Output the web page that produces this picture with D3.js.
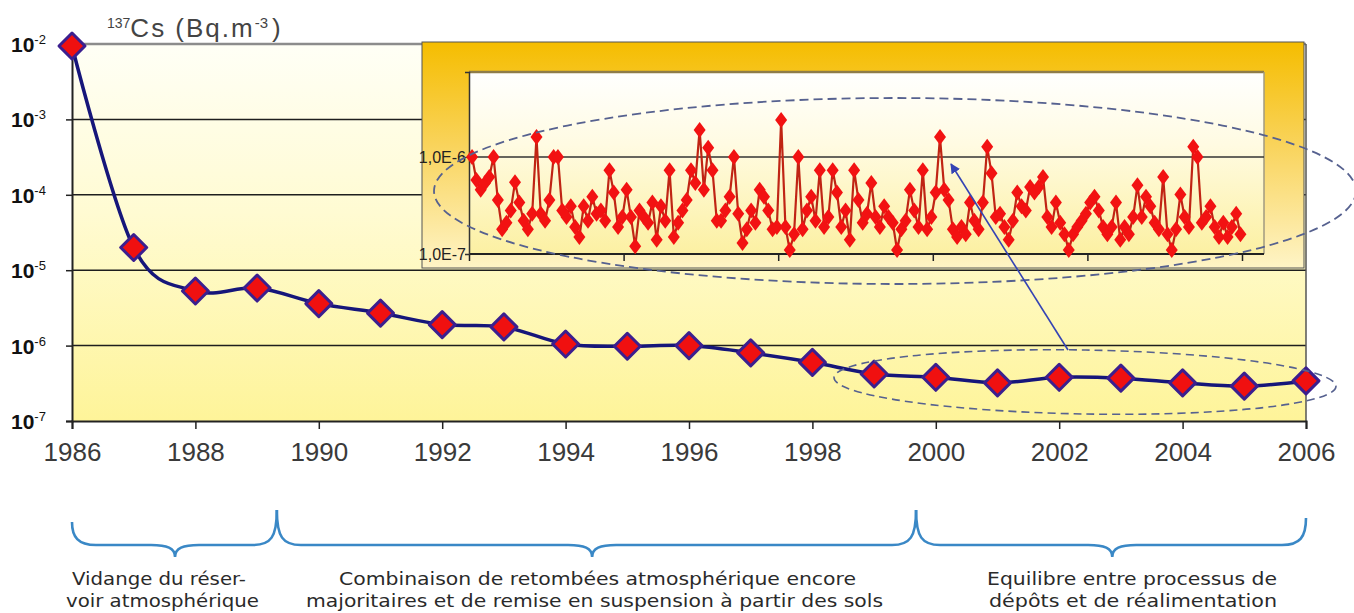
<!DOCTYPE html>
<html>
<head>
<meta charset="utf-8">
<script src="https://cdn.jsdelivr.net/npm/d3@7"></script>
<style>
  body { margin: 0; background: #fff; }
  svg { display: block; }
</style>
</head>
<body>
<div id="chart"></div>
<script>
// yearly mean 137Cs in air (Bq/m3)
var years = [1986, 1987, 1988, 1989, 1990, 1991, 1992, 1993, 1994, 1995, 1996,
             1997, 1998, 1999, 2000, 2001, 2002, 2003, 2004, 2005, 2006];
var cs137 = [9.4e-3, 2.0e-5, 5.3e-6, 5.8e-6, 3.6e-6, 2.7e-6, 1.9e-6, 1.77e-6, 1.05e-6, 0.98e-6, 1.0e-6,
             8.0e-7, 6.0e-7, 4.2e-7, 3.8e-7, 3.2e-7, 3.8e-7, 3.7e-7, 3.2e-7, 2.9e-7, 3.4e-7];

var xTicks = [1986, 1988, 1990, 1992, 1994, 1996, 1998, 2000, 2002, 2004, 2006];
var yExponents = [-2, -3, -4, -5, -6, -7];

// inset: weekly values 2001-2006, in units of 1e-7 Bq/m3
var insetValues = [
  10, 5.8, 4.6, 5.4, 6.2, 10, 3.6, 1.8, 2.1, 2.8, 5.5, 3.4, 2.2, 1.8, 2.6, 16, 2.6, 2.2, 3.6, 10,
  10, 2.8, 2.4, 3.1, 1.9, 1.5, 3.1, 2.2, 3.9, 2.6, 2.8, 2.2, 7.3, 4.3, 1.9, 2.4, 4.6, 2.4, 1.2, 2.8,
  2.4, 2.1, 3.4, 1.4, 3.1, 2.2, 7.3, 1.5, 2.1, 2.8, 3.6, 7.3, 5.4, 19, 4.6, 12.4, 7.3, 2.2,
  2.2, 2.8, 3.9, 10, 2.6, 1.3, 1.8, 2.8, 2.1, 4.6, 3.9, 2.8, 1.8, 1.9, 24, 1.9, 1.1, 1.6, 10, 1.8,
  2.8, 3.9, 2.2, 7.3, 1.9, 2.4, 7.3, 4.3, 1.9, 2.8, 1.4, 7.3, 3.6, 2.1, 2.6, 5.4, 2.4, 1.9, 3.1, 2.4,
  2.1, 1.1, 1.8, 2.2, 4.6, 2.8, 1.9, 7.3, 1.8, 2.4, 4.3, 16, 4.6, 3.6, 1.8, 1.5, 1.9, 1.6, 3.4, 2.2,
  1.8, 3.4, 12.7, 6.8, 2.4, 2.6, 1.9, 1.4, 2.2, 4.3, 3.1, 2.8, 4.9, 4.3, 4.9, 6.2, 2.4, 1.9, 3.4, 2.1,
  1.6, 1.1, 1.6, 1.9, 2.2, 2.6, 3.4, 3.9, 2.8, 1.9, 1.6, 1.9, 3.4, 1.4, 1.9, 1.6, 2.4, 5.1, 2.4, 3.9,
  3.1, 2.1, 1.8, 6.2, 1.6, 1.1, 1.8, 4.1, 2.4, 1.9, 12.7, 10, 2.1, 2.4, 3.1, 1.9, 1.5, 2.1, 1.5, 1.9,
  2.6, 1.6
];
var insetYears = [2001, 2002, 2003, 2004, 2005, 2006];
var insetTickValues = [1e-6, 1e-7];
var insetTickLabels = ["1,0E-6", "1,0E-7"];

// periods under the x axis (in years)
var periodStart = [1986.0, 1989.32, 1999.68];
var periodEnd = [1989.32, 1999.68, 2006];
var periodMid = [1987.67, 1994.43, 2002.86];
var periodText = [
  ["Vidange du réser-", "voir atmosphérique"],
  ["Combinaison de retombées atmosphérique encore", "majoritaires et de remise en suspension à partir des sols"],
  ["Equilibre entre processus de", "dépôts et de réalimentation"]
];

var width = 1354, height = 613;

var svg = d3.select("#chart").append("svg")
    .attr("width", width)
    .attr("height", height);

var defs = svg.append("defs");

function vGrad(id, stops) {
  var g = defs.append("linearGradient").attr("id", id)
      .attr("x1", 0).attr("y1", 0).attr("x2", 0).attr("y2", 1);
  stops.forEach(function(s) {
    g.append("stop").attr("offset", s[0]).attr("stop-color", s[1]);
  });
}
vGrad("plotBg", [[0, "#fffff6"], [0.45, "#fffbd2"], [1, "#fef499"]]);
vGrad("frameBg", [[0, "#f5bd00"], [0.45, "#f9d35a"], [1, "#fef4c6"]]);
vGrad("innerBg", [[0, "#ffffff"], [0.4, "#fffbe2"], [1, "#fcf0a2"]]);

defs.append("marker")
    .attr("id", "arrowHead")
    .attr("viewBox", "0 0 10 10")
    .attr("refX", 9).attr("refY", 5)
    .attr("markerWidth", 10).attr("markerHeight", 10)
    .attr("markerUnits", "userSpaceOnUse")
    .attr("orient", "auto")
  .append("path")
    .attr("d", "M0,0L10,5L0,10Z")
    .attr("fill", "#3443b4");

var x = d3.scaleLinear().domain([1986, 2006]).range([72, 1306]);
var y = d3.scaleLog().domain([1e-7, 1e-2]).range([421, 44]);

// plot background
svg.append("rect")
    .attr("x", x(1986)).attr("y", y(1e-2))
    .attr("width", x(2006) - x(1986))
    .attr("height", y(1e-7) - y(1e-2))
    .attr("fill", "url(#plotBg)");

// horizontal gridlines
svg.append("g").selectAll("line")
    .data(yExponents.slice(0, -1))
  .enter().append("line")
    .attr("x1", x(1986)).attr("x2", x(2006))
    .attr("y1", function(d) { return y(Math.pow(10, d)); })
    .attr("y2", function(d) { return y(Math.pow(10, d)); })
    .attr("stroke", function(d) { return d === -2 ? "#8c8c8c" : "#1e1e1e"; })
    .attr("stroke-width", function(d) { return d === -2 ? 2.5 : 1.5; });

// right border
svg.append("line")
    .attr("x1", x(2006)).attr("x2", x(2006))
    .attr("y1", y(1e-2)).attr("y2", y(1e-7))
    .attr("stroke", "#555").attr("stroke-width", 1.5);

// x axis
var xAxis = d3.axisBottom(x)
    .tickValues(xTicks)
    .tickSize(8)
    .tickPadding(14)
    .tickFormat(d3.format("d"));

var gx = svg.append("g")
    .attr("transform", "translate(0," + y(1e-7) + ")")
    .call(xAxis);
gx.select(".domain").attr("stroke", "#222").attr("stroke-width", 2);
gx.selectAll(".tick line").attr("stroke", "#222").attr("stroke-width", 1.5);
gx.selectAll(".tick text")
    .attr("font-family", "'Liberation Sans', Arial, sans-serif")
    .attr("font-size", 26)
    .attr("fill", "#3a3a3a");

// y axis
var yAxis = d3.axisLeft(y)
    .tickValues(yExponents.map(function(e) { return Math.pow(10, e); }))
    .tickSize(6)
    .tickFormat("");

var gy = svg.append("g")
    .attr("transform", "translate(" + x(1986) + ",0)")
    .call(yAxis);
gy.select(".domain").attr("stroke", "#222").attr("stroke-width", 2);
gy.selectAll(".tick line").attr("stroke", "#222").attr("stroke-width", 1.5);

var yLab = svg.append("g").selectAll("text")
    .data(yExponents)
  .enter().append("text")
    .attr("x", 11)
    .attr("y", function(d) { return y(Math.pow(10, d)) + 8; })
    .attr("font-family", "'Liberation Sans', Arial, sans-serif")
    .attr("fill", "#111");
yLab.append("tspan")
    .attr("font-size", 21).attr("font-weight", "bold")
    .text("10");
yLab.append("tspan")
    .attr("font-size", 13).attr("dy", -8)
    .text(function(d) { return d; });

// axis title
var title = svg.append("text")
    .attr("x", 107).attr("y", 37)
    .attr("font-family", "'Liberation Sans', Arial, sans-serif")
    .attr("fill", "#444");
title.append("tspan").attr("font-size", 14).attr("dy", -9).text("137");
title.append("tspan").attr("font-size", 26).attr("dy", 9).attr("letter-spacing", 2).text("Cs (Bq.m");
title.append("tspan").attr("font-size", 15).attr("dy", -9).text("-3");
title.append("tspan").attr("font-size", 26).attr("dy", 9).attr("dx", 4).text(")");

// ---------- inset ----------
var inset = svg.append("g");

inset.append("rect")
    .attr("x", 422).attr("y", 42)
    .attr("width", 882).attr("height", 226)
    .attr("fill", "url(#frameBg)")
    .attr("stroke", "#555").attr("stroke-width", 1);

var ix = d3.scaleLinear().domain([2001, 2006]).range([469, 1242]);
var iy = d3.scaleLog().domain([1e-7, 7.5e-6]).range([254, 72]);
var iWeek = d3.scaleLinear().domain([0, insetValues.length - 1]).range([2001.02, 2005.99]);

inset.append("rect")
    .attr("x", 469).attr("y", 72)
    .attr("width", 1264 - 469).attr("height", 254 - 72)
    .attr("fill", "url(#innerBg)");
inset.append("line")
    .attr("x1", 469).attr("x2", 1264).attr("y1", 72).attr("y2", 72)
    .attr("stroke", "#8e7c4a").attr("stroke-width", 2.5);
inset.append("line")
    .attr("x1", 1264).attr("x2", 1264).attr("y1", 72).attr("y2", 254)
    .attr("stroke", "#a09a80").attr("stroke-width", 1.5);

inset.append("line")
    .attr("x1", 469).attr("x2", 1264)
    .attr("y1", iy(1e-6)).attr("y2", iy(1e-6))
    .attr("stroke", "#333").attr("stroke-width", 1.5);

var igx = inset.append("g")
    .attr("transform", "translate(0," + iy(1e-7) + ")")
    .call(d3.axisBottom(ix).tickValues(insetYears).tickSize(7).tickFormat(""));
igx.select(".domain").attr("d", "M469,0H1264").attr("stroke", "#222").attr("stroke-width", 2);
igx.selectAll(".tick line").attr("stroke", "#222").attr("stroke-width", 1.5);

var igy = inset.append("g")
    .attr("transform", "translate(469,0)")
    .call(d3.axisLeft(iy).tickValues(insetTickValues).tickSize(4).tickFormat(""));
igy.select(".domain").attr("stroke", "#333").attr("stroke-width", 1.5);
igy.selectAll(".tick line").attr("stroke", "#333");

inset.append("g").selectAll("text")
    .data(insetTickValues)
  .enter().append("text")
    .attr("x", 466)
    .attr("y", function(d) { return iy(d) + 6; })
    .attr("text-anchor", "end")
    .attr("font-family", "'Liberation Sans Narrow', 'Arial Narrow', sans-serif")
    .attr("font-stretch", "condensed")
    .attr("font-size", 16)
    .attr("fill", "#222")
    .text(function(d, i) { return insetTickLabels[i]; });

var insetLine = d3.line()
    .x(function(d, i) { return ix(iWeek(i)); })
    .y(function(d) { return iy(d * 1e-7); });

inset.append("path")
    .datum(insetValues)
    .attr("d", insetLine)
    .attr("fill", "none")
    .attr("stroke", "#c02414")
    .attr("stroke-width", 2.2);

inset.append("g").selectAll("path")
    .data(insetValues)
  .enter().append("path")
    .attr("transform", function(d, i) {
      return "translate(" + ix(iWeek(i)) + "," + iy(d * 1e-7) + ")";
    })
    .attr("d", "M0,-8L6,0L0,8L-6,0Z")
    .attr("fill", "#f21212");

// ---------- main series ----------
var line = d3.line()
    .curve(d3.curveCatmullRom.alpha(0))
    .x(function(d, i) { return x(years[i]); })
    .y(function(d) { return y(d); });

svg.append("path")
    .datum(cs137)
    .attr("d", line)
    .attr("fill", "none")
    .attr("stroke", "#16167a")
    .attr("stroke-width", 3.5);

svg.append("g").selectAll("path")
    .data(cs137)
  .enter().append("path")
    .attr("transform", function(d, i) { return "translate(" + x(years[i]) + "," + y(d) + ")"; })
    .attr("d", "M0,-13L13,0L0,13L-13,0Z")
    .attr("fill", "#f01010")
    .attr("stroke", "#3b1f8f")
    .attr("stroke-width", 3)
    .attr("stroke-linejoin", "round");

// ---------- annotations ----------
svg.append("ellipse")
    .attr("cx", 895).attr("cy", 191)
    .attr("rx", 461).attr("ry", 93)
    .attr("fill", "none")
    .attr("stroke", "#56618f").attr("stroke-width", 1.8)
    .attr("stroke-dasharray", "9,5");

svg.append("ellipse")
    .attr("cx", 1085).attr("cy", 382)
    .attr("rx", 251).attr("ry", 32)
    .attr("transform", "rotate(1,1085,382)")
    .attr("fill", "none")
    .attr("stroke", "#56618f").attr("stroke-width", 1.6)
    .attr("stroke-dasharray", "8,5");

svg.append("line")
    .attr("x1", 1068).attr("y1", 350)
    .attr("x2", 951).attr("y2", 164)
    .attr("stroke", "#3443b4").attr("stroke-width", 1.6)
    .attr("marker-end", "url(#arrowHead)");

// ---------- period braces ----------
function bracePath(x1, x2, xm, yTip1, yTip2) {
  var yH = 545, yCusp = 557, r = 24;
  return "M" + x1 + "," + yTip1 +
    "C" + x1 + "," + (yH - 8) + " " + (x1 + 6) + "," + yH + " " + (x1 + r) + "," + yH +
    "L" + (xm - r) + "," + yH +
    "C" + (xm - 8) + "," + yH + " " + xm + "," + (yH + 3) + " " + xm + "," + yCusp +
    "C" + xm + "," + (yH + 3) + " " + (xm + 8) + "," + yH + " " + (xm + r) + "," + yH +
    "L" + (x2 - r) + "," + yH +
    "C" + (x2 - 6) + "," + yH + " " + x2 + "," + (yH - 8) + " " + x2 + "," + yTip2;
}
var tipY = [522, 510, 510, 518];

svg.append("g").selectAll("path")
    .data(periodStart)
  .enter().append("path")
    .attr("d", function(d, i) {
      return bracePath(x(d), x(periodEnd[i]), x(periodMid[i]), tipY[i], tipY[i + 1]);
    })
    .attr("fill", "none")
    .attr("stroke", "#3a88c6")
    .attr("stroke-width", 2.6);

// text layout: start x and width of each line (px)
var textLayout = [
  [[72, 174], [66, 193]],
  [[339, 517], [306, 577]],
  [[987, 290], [989, 288]]
];

periodText.forEach(function(lines, i) {
  lines.forEach(function(t, j) {
    svg.append("text")
        .attr("x", textLayout[i][j][0])
        .attr("y", 585 + j * 22)
        .attr("textLength", textLayout[i][j][1])
        .attr("lengthAdjust", "spacingAndGlyphs")
        .attr("font-family", "'DejaVu Sans', Verdana, sans-serif")
        .attr("font-size", 17.5)
        .attr("fill", "#2a2a2a")
        .text(t);
  });
});
</script>
</body>
</html>
